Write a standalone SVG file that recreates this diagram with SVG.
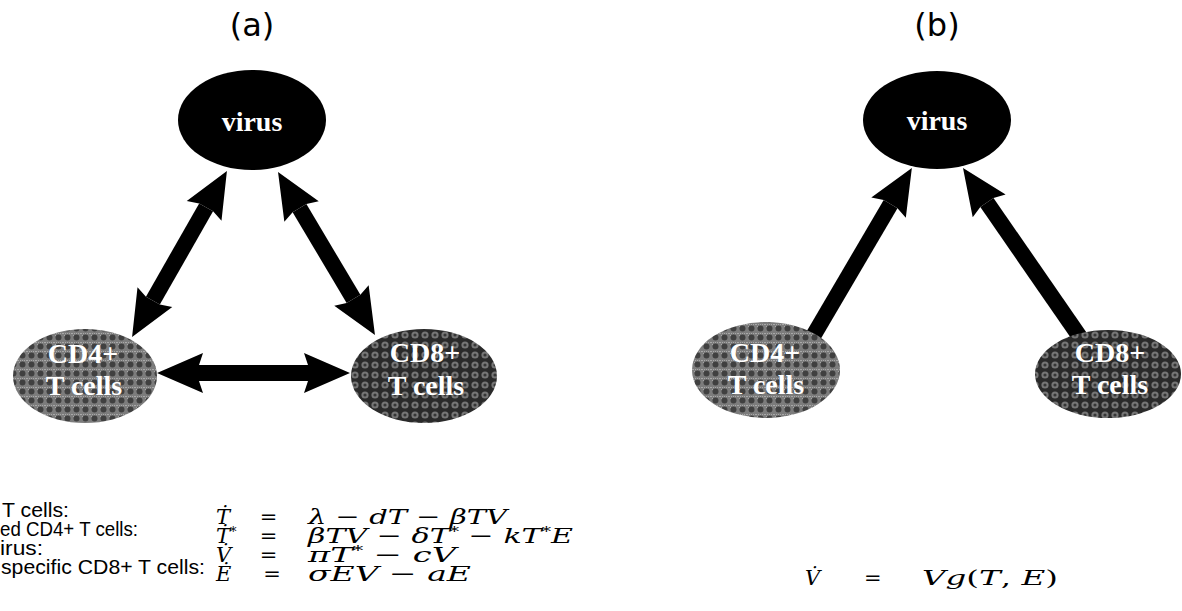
<svg xmlns="http://www.w3.org/2000/svg" width="1182" height="611" viewBox="0 0 1182 611">
  <style>
    .panel { font-family: "DejaVu Sans", sans-serif; font-size: 32px; fill: #000; }
    .node-label { font-family: "Liberation Serif", "Times New Roman", serif; font-weight: bold; font-size: 28px; fill: #fff; text-anchor: middle; }
    .legend { font-family: "Liberation Sans", Arial, sans-serif; font-size: 20px; fill: #000; }
    .math { font-family: "DejaVu Serif", "Liberation Serif", serif; font-style: italic; font-size: 21px; fill: #000; }
    .up { font-style: normal; }
    .rel { font-family: "DejaVu Serif", "Liberation Serif", serif; font-size: 21px; fill: #000; text-anchor: middle; }
    .sup { font-size: 13px; }
    .shaft { stroke: #000; stroke-width: 16; fill: none; stroke-linecap: butt; }
    .virus { fill: #000; }
    .cd4 { fill: url(#cd4Mesh); }
    .cd8 { fill: url(#cd8Mesh); }
  </style>
  <defs>
    <!-- halftone mesh for the helper cell population -->
    <pattern id="cd4Mesh" patternUnits="userSpaceOnUse" width="9" height="9">
      <rect width="9" height="9" fill="#7c7c7c"/>
      <path d="M0,0h1v1h-1zM2,0h1v1h-1zM4,0h1v1h-1zM6,0h1v1h-1zM8,0h1v1h-1zM1,2h1v1h-1zM5,2h1v1h-1z" fill="#a8a8a8"/>
      <circle cx="4.5" cy="4.5" r="3" fill="#404040"/>
    </pattern>
    <!-- darker halftone mesh for the killer cell population -->
    <pattern id="cd8Mesh" patternUnits="userSpaceOnUse" width="10" height="10">
      <rect width="10" height="10" fill="#2a2a2a"/>
      <circle cx="5" cy="5" r="3.6" fill="#767676"/>
      <circle cx="5" cy="5" r="1.6" fill="#363636"/>
    </pattern>
    <marker id="head" markerUnits="userSpaceOnUse" markerWidth="50" markerHeight="44"
            viewBox="0 -22 50 44" refX="4" refY="0" orient="auto-start-reverse" overflow="visible">
      <path d="M0,-20 L46,0 L0,20 L4,8 L4,-8 Z" fill="#000"/>
    </marker>
  </defs>

  <!-- panel captions -->
  <text class="panel" x="252" y="36" text-anchor="middle">(a)</text>
  <text class="panel" x="937" y="36" text-anchor="middle">(b)</text>

  <!-- connectors -->
  <g id="connectors">
    <!-- (a) mutual interactions -->
    <line class="shaft" x1="206.1" y1="207.4" x2="152.9" y2="300.6" marker-start="url(#head)" marker-end="url(#head)"/>
    <line class="shaft" x1="299.5" y1="208.1" x2="353.5" y2="298.9" marker-start="url(#head)" marker-end="url(#head)"/>
    <line class="shaft" x1="199" y1="373" x2="308" y2="373" marker-start="url(#head)" marker-end="url(#head)"/>
    <!-- (b) one-way control of the virus -->
    <line class="shaft" x1="812" y1="338" x2="890.6" y2="204.1" marker-end="url(#head)"/>
    <line class="shaft" x1="1082" y1="340" x2="986.9" y2="202.5" marker-end="url(#head)"/>
  </g>

  <!-- panel (a) nodes -->
  <g id="a-virus">
    <ellipse class="virus" cx="252" cy="120" rx="74" ry="50"/>
    <text class="node-label" x="252" y="131">virus</text>
  </g>
  <g id="a-cd4">
    <ellipse class="cd4" cx="85" cy="376" rx="72" ry="47"/>
    <text class="node-label" x="83" y="363">CD4+</text>
    <text class="node-label" x="84" y="395">T cells</text>
  </g>
  <g id="a-cd8">
    <ellipse class="cd8" cx="424" cy="376" rx="73" ry="47"/>
    <text class="node-label" x="425" y="362">CD8+</text>
    <text class="node-label" x="426" y="395">T cells</text>
  </g>

  <!-- panel (b) nodes -->
  <g id="b-virus">
    <ellipse class="virus" cx="937" cy="120" rx="74" ry="49"/>
    <text class="node-label" x="937" y="130">virus</text>
  </g>
  <g id="b-cd4">
    <ellipse class="cd4" cx="766" cy="370" rx="74" ry="48"/>
    <text class="node-label" x="765" y="362">CD4+</text>
    <text class="node-label" x="766" y="394">T cells</text>
  </g>
  <g id="b-cd8">
    <ellipse class="cd8" cx="1108" cy="374" rx="73" ry="44"/>
    <text class="node-label" x="1110" y="362">CD8+</text>
    <text class="node-label" x="1110" y="394">T cells</text>
  </g>

  <!-- model equations for panel (a) -->
  <g id="a-equations">
    <text class="legend">
      <tspan x="2" y="517" textLength="67" lengthAdjust="spacingAndGlyphs">T cells:</tspan>
      <tspan x="0" y="536" textLength="138" lengthAdjust="spacingAndGlyphs">ed CD4+ T cells:</tspan>
      <tspan x="0" y="555" textLength="43" lengthAdjust="spacingAndGlyphs">irus:</tspan>
      <tspan x="1" y="574" textLength="204" lengthAdjust="spacingAndGlyphs">specific CD8+ T cells:</tspan>
    </text>

    <text class="math">
      <tspan x="216" y="524">T&#x307;</tspan>
      <tspan x="216" y="543">T&#x307;</tspan><tspan class="sup" baseline-shift="7">*</tspan>
      <tspan x="216" y="562">V&#x307;</tspan>
      <tspan x="216" y="581">E&#x307;</tspan>
    </text>

    <text class="rel">
      <tspan x="272" y="524">=</tspan>
      <tspan x="272" y="543">=</tspan>
      <tspan x="272" y="562">=</tspan>
      <tspan x="272" y="581">=</tspan>
    </text>

    <text class="math">
      <tspan x="308" y="524" textLength="199" lengthAdjust="spacingAndGlyphs">λ − dT − βTV</tspan>
      <tspan x="308" y="543" textLength="265" lengthAdjust="spacingAndGlyphs">βTV − δT<tspan class="sup" baseline-shift="7">*</tspan> − kT<tspan class="sup" baseline-shift="7">*</tspan>E</tspan>
      <tspan x="308" y="562" textLength="148" lengthAdjust="spacingAndGlyphs">πT<tspan class="sup" baseline-shift="7">*</tspan> − cV</tspan>
      <tspan x="308" y="581" textLength="163" lengthAdjust="spacingAndGlyphs">σEV − aE</tspan>
    </text>
  </g>

  <!-- growth law for panel (b) -->
  <g id="b-equation">
    <text class="math" font-size="30">
      <tspan x="805" y="585">V&#x307;</tspan>
      <tspan x="864" class="up">=</tspan>
      <tspan x="922" textLength="136" lengthAdjust="spacingAndGlyphs">Vg<tspan class="up">(</tspan>T<tspan class="up">, </tspan>E<tspan class="up">)</tspan></tspan>
    </text>
  </g>
</svg>
